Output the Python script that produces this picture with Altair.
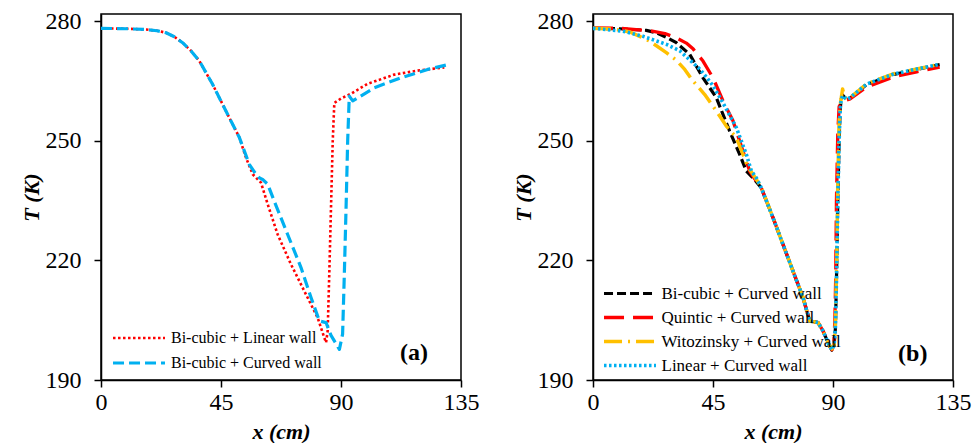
import altair as alt
import pandas as pd

X_TICKS = [0, 45, 90, 135]
T_TICKS = [190, 220, 250, 280]
X_DOMAIN = [0, 135]
T_DOMAIN = [190, 281.8]

# ---------------- panel (a) ----------------
a_names = ["Bi-cubic + Linear wall", "Bi-cubic + Curved wall"]
a_colors = ["#FF0000", "#00B0F0"]
a_dashes = [[2.5, 2.5], [11, 5]]
a_widths = [2.6, 3.2]

a_lin_x = [0, 10, 16.9, 21, 24.4, 27.5, 30.6, 33.7, 36.9, 41.9, 46.9, 51.9, 54.4, 56.9, 58.5, 60, 62.5,
           66.25, 71.25, 76.25, 81.25, 83.75, 84.4, 85, 85.6, 86.25, 86.9, 87.5, 90, 93.75, 100, 110,
           118.75, 128.75]
a_lin_T = [278.2, 278.1, 277.9, 277.6, 277.1, 276.1, 274.6, 272.6, 270, 264.1, 257.4, 250.8, 245.7,
           241.6, 240.5, 239.5, 234.1, 226.5, 219, 212.3, 205.6, 200.6, 199.4, 202.3, 216.5, 233.2,
           249.9, 259.5, 260.6, 261.8, 264.3, 266.6, 267.6, 268.4]

a_cur_x = [0, 10, 16.9, 21, 24.4, 27.5, 30.6, 33.7, 36.9, 41.9, 46.9, 51.9, 55.6, 57.5, 59.4, 60.6,
           62.5, 65, 70, 75, 78.75, 81.9, 84.4, 86.25, 87.5, 89.4, 90.6, 91.25, 91.9, 92.5, 93.1, 94.4,
           102.5, 112.5, 122.5, 130]
a_cur_T = [278.2, 278.1, 277.9, 277.6, 277.1, 276.1, 274.6, 272.6, 270, 264.1, 257.4, 250.8, 244.1,
           242.2, 240.7, 240.3, 239.1, 234.8, 226.5, 218.2, 210.7, 204.8, 204.4, 201.2, 199.8, 197.7,
           201.5, 216.5, 233.2, 249.9, 261.2, 260, 263.3, 265.8, 267.9, 269.1]

# ---------------- panel (b) ----------------
b_names = ["Bi-cubic + Curved wall", "Quintic + Curved wall", "Witozinsky + Curved wall",
           "Linear + Curved wall"]
b_colors = ["#000000", "#FF0000", "#FFC000", "#00B0F0"]
b_dashes = [[9, 4], [20, 9], [18, 6, 2, 6], [2.5, 2.5]]
b_widths = [3.2, 3.6, 3.2, 2.6]

b_bic_x = [0, 10, 20, 23.75, 28, 31.25, 36.25, 41.25, 46.25, 51.25, 55, 57.5, 60, 63.1, 67.5, 71.25,
           75, 78.75, 81.25, 84.4, 86.25, 88.75, 89.6, 90.4, 90.9, 91.3, 91.8, 92.3, 92.7, 93.1, 93.6,
           95, 96.4, 102.6, 112.6, 121.4, 130]
b_bic_T = [278.2, 278.1, 277.7, 277.1, 275.8, 274.6, 271.7, 265.8, 260.8, 252.4, 246.6, 242.4, 240.7,
           238.2, 230.7, 224, 217.3, 210.7, 204.8, 204.4, 202.3, 198.5, 197.5, 198.5, 203, 215, 235,
           250, 258, 260.5, 261.5, 260.4, 260.7, 264.1, 266.6, 267.9, 269.1]

b_qui_x = [0, 10, 21.4, 27, 31.25, 35, 37.6, 41.25, 45, 48.75, 52.5, 56.25, 58.75, 60.5, 63.1, 67.5,
           71.25, 75, 78.75, 81.25, 84.4, 86.25, 88.75, 89.6, 90.3, 90.7, 91, 91.3, 91.8, 92.3, 92.8,
           95, 96.4, 102.6, 112.6, 121.4, 130]
b_qui_T = [278.3, 278.2, 277.6, 276.9, 275.8, 274.5, 273.0, 270, 265.8, 260, 255, 247.4, 242.4,
           240.6, 238.2, 230.7, 224, 217.3, 210.7, 204.8, 204.4, 202.3, 198.5, 197.6, 199, 205, 215,
           235, 252, 258.5, 259.5, 260.2, 260.5, 263.5, 266, 267.3, 268.5]

b_wit_x = [0, 8, 13.75, 17.5, 21.25, 27.5, 31.25, 34.4, 37.5, 41.9, 45, 47.5, 50, 53.75, 56.25, 58,
           60, 63.1, 67.5, 71.25, 75, 78.75, 81.25, 84.4, 86.25, 88.75, 89.6, 90.4, 90.9, 91.4, 91.8,
           92.3, 92.8, 93.6, 94.3, 95.2, 96.4, 102.6, 112.6, 121.4, 130]
b_wit_T = [278.2, 278, 277.3, 276.2, 275, 272.1, 270.2, 267.9, 265, 261.6, 258.7, 256.2, 253.7,
           250.8, 246.6, 243.5, 241.6, 238.4, 230.7, 224, 217.3, 210.7, 204.8, 204.4, 202.3, 198.5,
           197.8, 199, 204, 220, 240, 255, 259.5, 263, 261, 260.5, 260.8, 264.3, 266.8, 268, 269.2]

b_lin_x = [0, 11.25, 18.75, 27.5, 32.5, 36.25, 40, 42.5, 45, 48.75, 53.75, 57.5, 59.4, 61.25, 63.1,
           67.5, 71.25, 75, 78.75, 81.25, 84.4, 86.25, 88.75, 89.6, 90.4, 90.9, 91.3, 91.8, 92.3, 92.7,
           93.1, 93.6, 95, 96.4, 102.6, 112.6, 121.4, 130]
b_lin_T = [278.2, 277.5, 276.2, 274.2, 272.6, 270.3, 268, 266, 263.8, 259.5, 253.3, 246.6, 242.4,
           240.7, 238.2, 230.7, 224, 217.3, 210.7, 204.8, 204.4, 202.3, 198.5, 197.6, 198.6, 203, 215,
           235, 250, 258, 260.3, 261.3, 260.4, 260.8, 264.2, 266.7, 268, 269.2]

# panel tags, placed in data units
tag_text = ["(a)", "(b)"]
tag_x = [117.4, 119.9]
tag_T = [196.8, 196.6]

FONT = "'Liberation Serif', 'Times New Roman', serif"
LEG_PATH = "M-5,0H5"


def make_df(names, xs, ts):
    rows = []
    for name, xl, tl in zip(names, xs, ts):
        for i, (xv, tv) in enumerate(zip(xl, tl)):
            rows.append({"series": name, "x": xv, "T": tv, "i": i})
    return pd.DataFrame(rows)


def panel(df, names, colors, dashes, widths, tag, tx, tT, leg_x, leg_y, row_pad, leg_font,
          leg_offset):
    legend = alt.Legend(
        title=None, orient="none", legendX=leg_x, legendY=leg_y,
        symbolType=LEG_PATH, symbolSize=108, symbolStrokeWidth=3,
        labelFont=FONT, labelFontSize=leg_font, labelColor="black", labelOffset=leg_offset,
        rowPadding=row_pad, padding=0, labelLimit=400,
    )
    x_enc = alt.X("x:Q", scale=alt.Scale(domain=X_DOMAIN, nice=False),
                  axis=alt.Axis(values=X_TICKS, title="x (cm)", format="d", labelFlush=False,
                                labelPadding=3, titlePadding=7))
    y_enc = alt.Y("T:Q", scale=alt.Scale(domain=T_DOMAIN, nice=False, zero=False),
                  axis=alt.Axis(values=T_TICKS, title="T (K)", format="d", labelFlush=False,
                                labelPadding=13, titlePadding=2))
    lines = alt.Chart(df).mark_line(strokeCap="butt", strokeJoin="round", clip=True).encode(
        x=x_enc,
        y=y_enc,
        color=alt.Color("series:N", scale=alt.Scale(domain=names, range=colors),
                        sort=names, legend=legend),
        strokeDash=alt.StrokeDash("series:N", scale=alt.Scale(domain=names, range=dashes),
                                  sort=names, legend=legend),
        strokeWidth=alt.StrokeWidth("series:N", scale=alt.Scale(domain=names, range=widths),
                                    legend=None),
        order=alt.Order("i:Q"),
    )
    tag_df = pd.DataFrame({"x": [tx], "T": [tT], "label": [tag]})
    text = alt.Chart(tag_df).mark_text(font=FONT, fontSize=24, fontWeight="bold",
                                       color="black").encode(
        x=alt.X("x:Q"), y=alt.Y("T:Q"), text="label:N")
    return alt.layer(lines, text).properties(width=360, height=366)


df_a = make_df(a_names, [a_lin_x, a_cur_x], [a_lin_T, a_cur_T])
df_b = make_df(b_names, [b_bic_x, b_qui_x, b_wit_x, b_lin_x], [b_bic_T, b_qui_T, b_wit_T, b_lin_T])

pa = panel(df_a, a_names, a_colors, a_dashes, a_widths, tag_text[0], tag_x[0], tag_T[0],
           30, 316, 9, 16, 24)
pb = panel(df_b, b_names, b_colors, b_dashes, b_widths, tag_text[1], tag_x[1], tag_T[1],
           28.5, 271, 6, 17, 23)

chart = alt.HConcatChart(hconcat=[pa, pb], spacing=132, bounds="flush").resolve_scale(
    color="independent", strokeDash="independent", strokeWidth="independent"
).resolve_legend(
    color="independent", strokeDash="independent"
).configure_view(
    stroke="black", strokeWidth=1.5
).configure_axis(
    domainColor="black", domainWidth=1.5, tickColor="black", tickSize=7, tickWidth=1.5,
    labelFont=FONT, labelFontSize=24, labelColor="black",
    titleFont=FONT, titleFontSize=22, titleFontWeight="bold", titleFontStyle="italic",
    titleColor="black", grid=False,
).properties(
    padding={"left": 19, "top": 8, "right": 3, "bottom": 0},
    background="white",
)

chart.save("out.html", embed_options={"renderer": "svg", "actions": False})
